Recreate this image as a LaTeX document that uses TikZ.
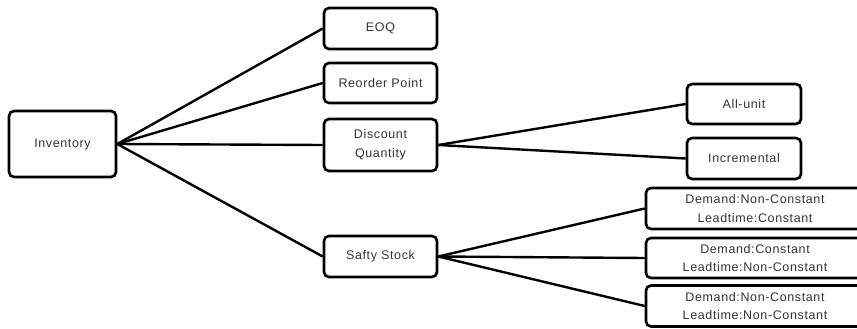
\documentclass[tikz,border=0pt]{standalone}
\usepackage{fontspec}
\setmainfont{Liberation Sans}[LetterSpace=5]
\begin{document}
\begin{tikzpicture}[x=1pt,y=-1pt,
  box/.style={draw=black, line width=2.6pt, rounded corners=5pt, fill=white,
    inner sep=0pt, align=center, text=black!80,
    font=\fontsize{12.5}{18.5}\selectfont},
  link/.style={line width=2.4pt, black}]
\clip (0,0) rectangle (857,329);
\node[box, minimum width=107pt, minimum height=66pt] (inv) at (62.5,144) {Inventory};
\node[box, minimum width=113pt, minimum height=41pt] (eoq) at (380.5,28.5) {EOQ};
\node[box, minimum width=113pt, minimum height=40pt] (rop) at (380.5,83) {Reorder Point};
\node[box, minimum width=113pt, minimum height=52pt] (dq) at (380.5,145) {Discount\\Quantity};
\node[box, minimum width=113pt, minimum height=41pt] (ss) at (380.5,256.5) {Safty Stock};
\node[box, minimum width=114pt, minimum height=40pt] (au) at (744,104) {All-unit};
\node[box, minimum width=114pt, minimum height=41pt] (inc) at (744,158.5) {Incremental};
\node[box, minimum width=218pt, minimum height=41pt] (s1) at (755,208.5) {Demand:Non-Constant\\Leadtime:Constant};
\node[box, minimum width=218pt, minimum height=40pt] (s2) at (755,258) {Demand:Constant\\Leadtime:Non-Constant};
\node[box, minimum width=218pt, minimum height=41pt] (s3) at (755,306) {Demand:Non-Constant\\Leadtime:Non-Constant};
\foreach \t in {eoq,rop,dq,ss} \draw[link] (inv.east) -- (\t.west);
\foreach \t in {au,inc} \draw[link] (dq.east) -- (\t.west);
\foreach \t in {s1,s2,s3} \draw[link] (ss.east) -- (\t.west);
\end{tikzpicture}
\end{document}
